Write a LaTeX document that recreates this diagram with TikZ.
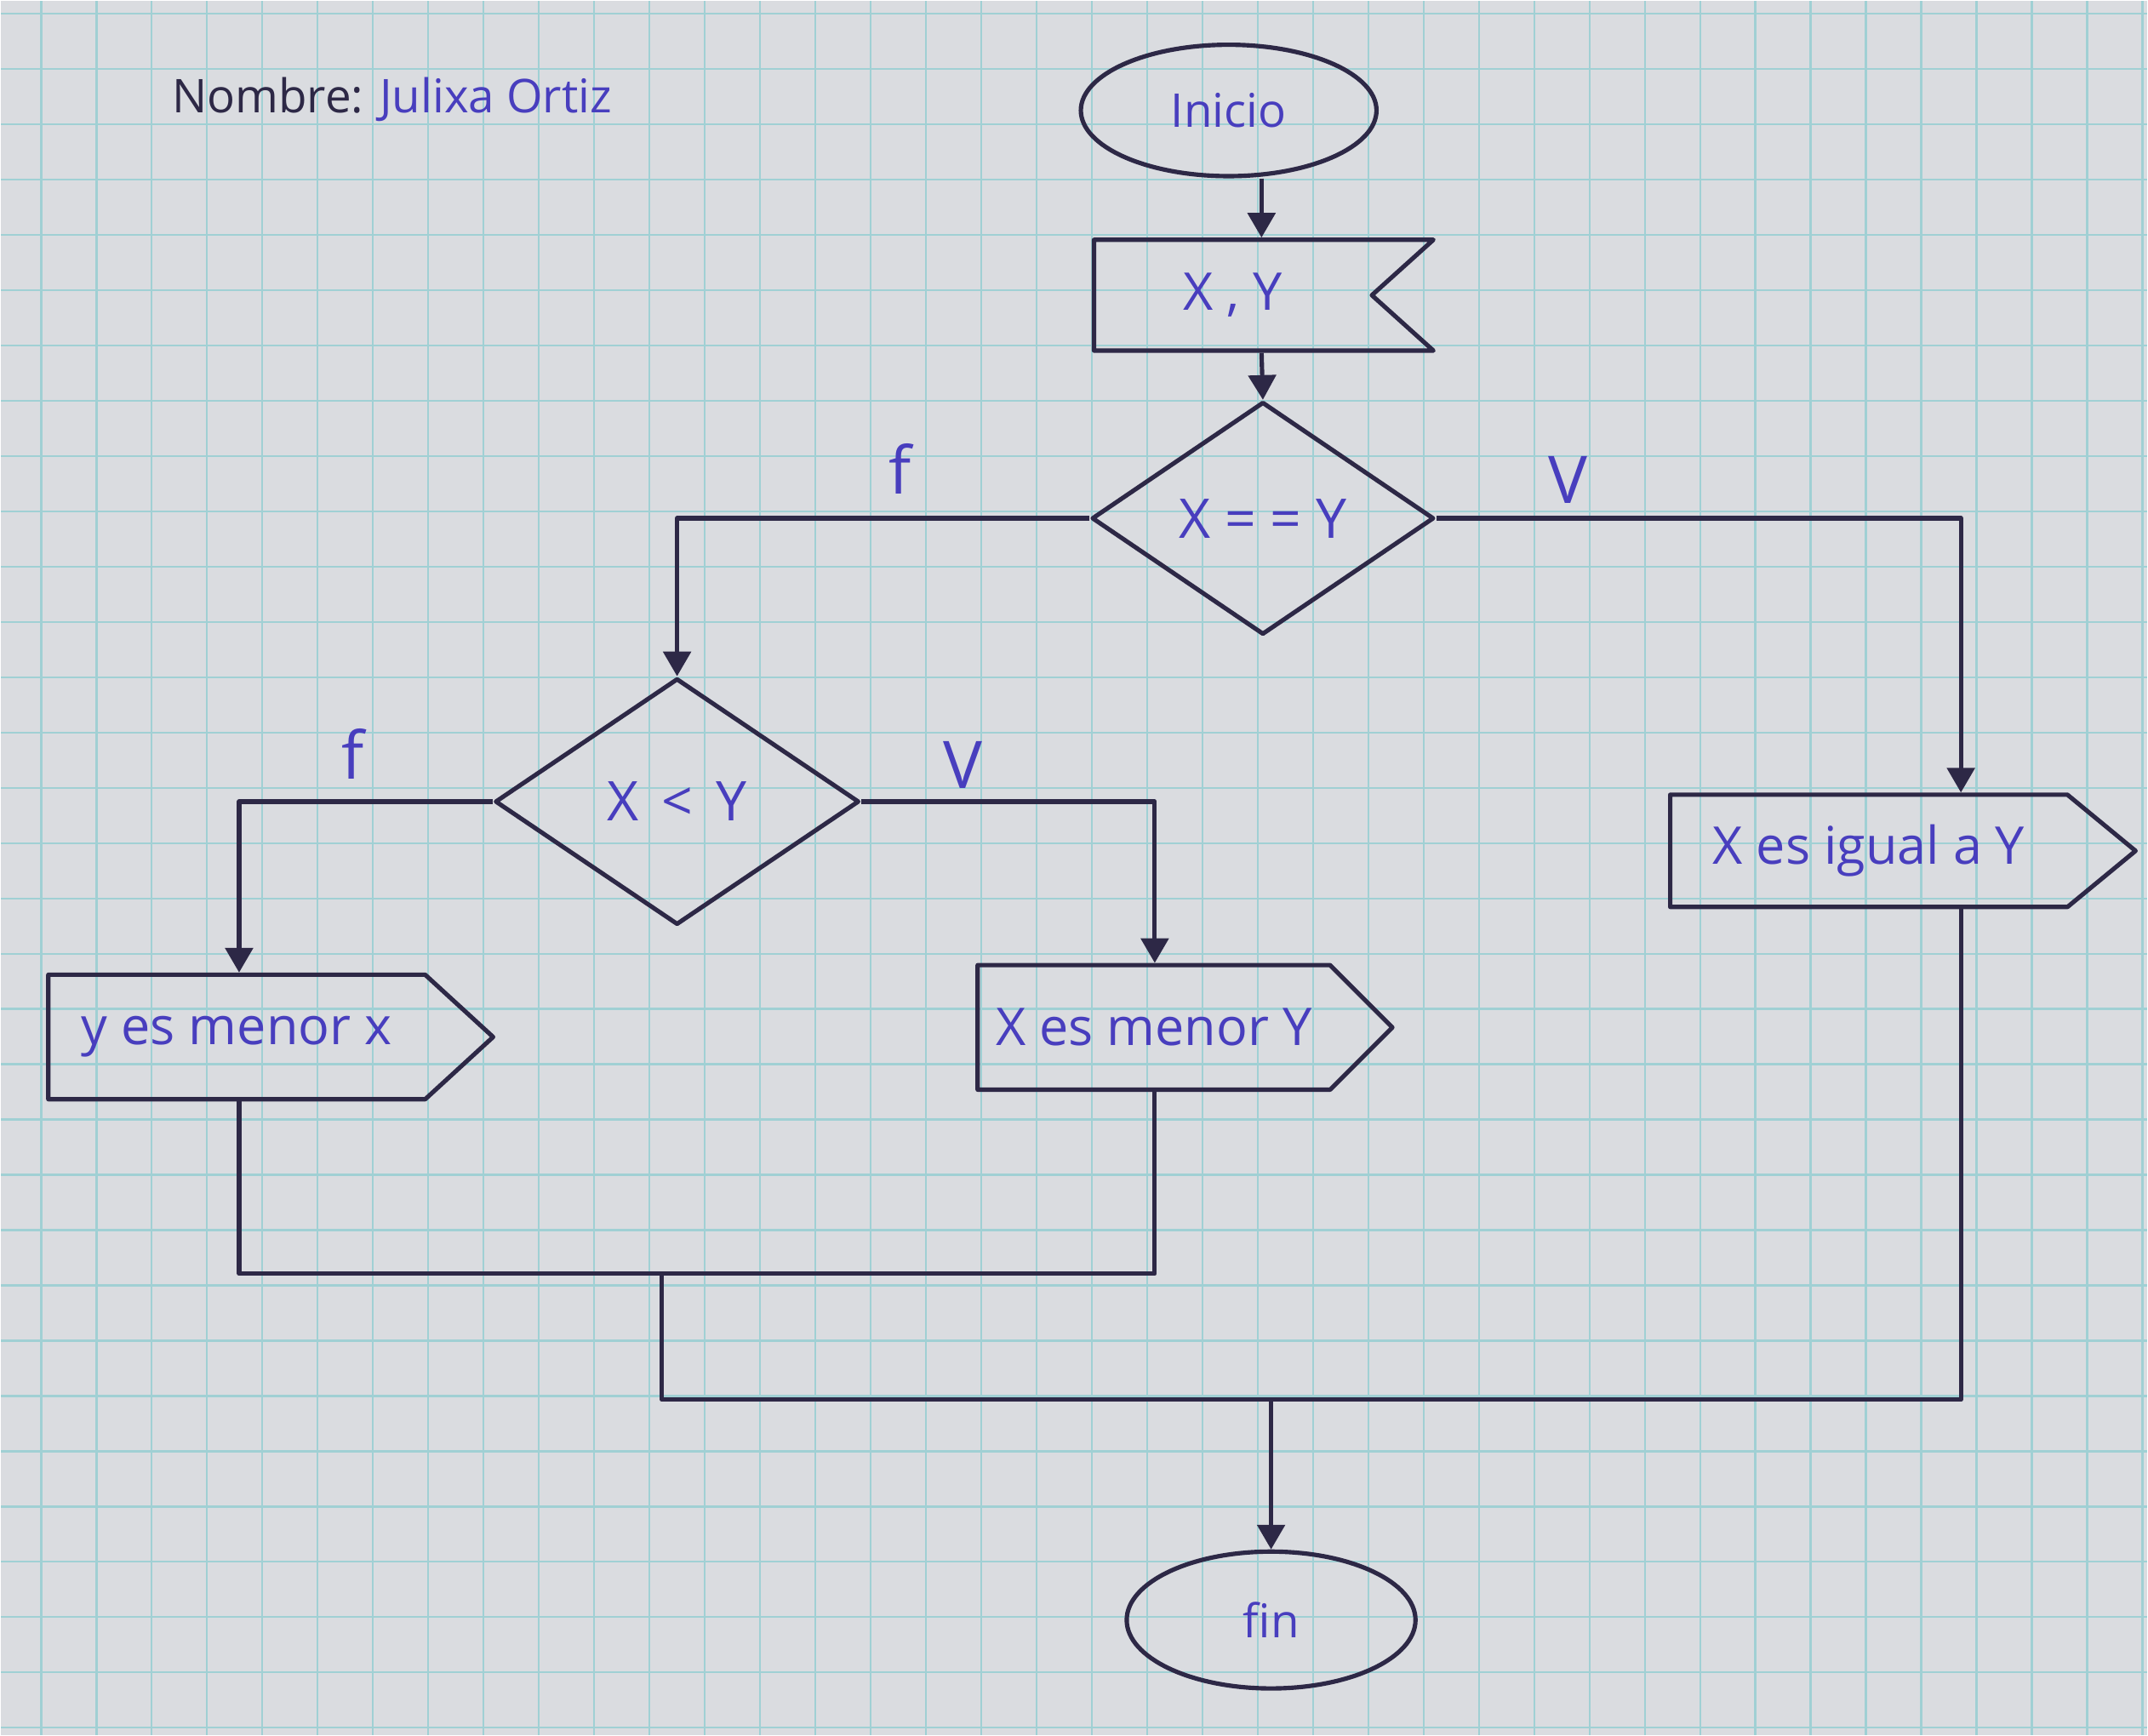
\documentclass[tikz,border=0pt]{standalone}
\usepackage{fontspec}
\setmainfont{Open Sans}
\usetikzlibrary{shapes.geometric, shapes.symbols, arrows.meta}

\definecolor{tinta}{RGB}{45,40,70}
\definecolor{azul}{RGB}{72,62,190}
\definecolor{papel}{RGB}{218,220,224}
\definecolor{cuadro}{RGB}{160,208,212}

\tikzset{
  trazo/.style={draw=tinta, line width=1.6pt, line join=round},
  flecha/.style={trazo, -{Triangle[width=10pt,length=9pt]}},
  terminal/.style={trazo, ellipse, inner sep=0pt, text=azul, font=\fontsize{17}{20}\selectfont},
  decision/.style={trazo, diamond, inner sep=0pt, text=azul, font=\fontsize{20}{24}\selectfont},
  entrada/.style={trazo, signal, signal to=nowhere, signal from=east, inner sep=0pt, anchor=west, text=azul, font=\fontsize{19}{22}\selectfont},
  salida/.style={trazo, signal, signal to=east, inner sep=0pt, anchor=west, text=azul, font=\fontsize{19}{22}\selectfont},
  rotulo/.style={text=azul, font=\fontsize{24}{28}\selectfont},
  cuadro/.style={draw=cuadro, line width=0.7pt}
}

\begin{document}
\begin{tikzpicture}[x=0.5pt,y=0.5pt,yscale=-1,xscale=1]

%Shape: Rectangle -- hoja cuadriculada
\fill[papel] (0,0) rectangle (1568,1267);
\foreach \k in {0,...,38}
  \draw[cuadro] (29.4+40.4*\k,0) -- (29.4+40.4*\k,1267);
\foreach \k in {0,...,31}
  \draw[cuadro] (0,9.3+40.4*\k) -- (1568,9.3+40.4*\k);

% Text Node
\node (nombre) at (118,72) [anchor=west, text=tinta, font=\fontsize{17}{20}\selectfont] {Nombre: \textcolor{azul}{Julixa Ortiz}};

%Shape: Ellipse
\node (inicio) at (897,80) [terminal, minimum width=108pt, minimum height=48pt] {Inicio};
%Shape: Input
\node (datos) at (797,215) [entrada, minimum width=124pt, minimum height=40.5pt, signal pointer angle=84] {X , Y};
%Shape: Diamond
\node (igualdad) at (922,378) [decision, minimum width=125pt, minimum height=85pt] {X = = Y};
\node (menorque) at (494,585) [decision, minimum width=133pt, minimum height=90pt] {X \,<\, Y};
%Shape: Output
\node (ymenor) at (33,757) [salida, minimum width=162.5pt, minimum height=45.5pt, signal pointer angle=85] {y es menor x};
\node (xmenor) at (712,750) [salida, minimum width=151.5pt, minimum height=45.5pt, signal pointer angle=90] {X es menor Y};
\node (igual) at (1218,621) [salida, minimum width=170pt, minimum height=41pt, signal pointer angle=79] {X es igual a Y};
%Shape: Ellipse
\node (fin) at (928,1183) [terminal, minimum width=105.5pt, minimum height=50pt] {fin};

% Text Node
\node (rotF1) at (657,342) [rotulo] {f};
\node (rotV1) at (1145,350) [rotulo] {V};
\node (rotF2) at (257,550) [rotulo] {f};
\node (rotV2) at (703,558) [rotulo] {V};

% columnas y uniones
\coordinate (colC) at (921,0);
\coordinate (colY) at (174,0);
\coordinate (colX) at (843,0);
\coordinate (colV) at (1432,0);
\coordinate (union1) at (483,930);
\coordinate (union2) at (928,1022);

%Straight Lines
\draw[flecha] (colC |- inicio.south) -- (colC |- datos.north);
\draw[flecha] (colC |- datos.south) -- (igualdad.north);
\draw[flecha] (igualdad.west) -| (menorque.north);
\draw[flecha] (igualdad.east) -| (colV |- igual.north);
\draw[flecha] (menorque.west) -| (colY |- ymenor.north);
\draw[flecha] (menorque.east) -| (colX |- xmenor.north);
\draw[trazo] (colY |- ymenor.south) |- (union1) -| (colX |- xmenor.south);
\draw[trazo] (union1) |- (union2) -| (colV |- igual.south);
\draw[flecha] (union2) -- (fin);

\end{tikzpicture}
\end{document}
